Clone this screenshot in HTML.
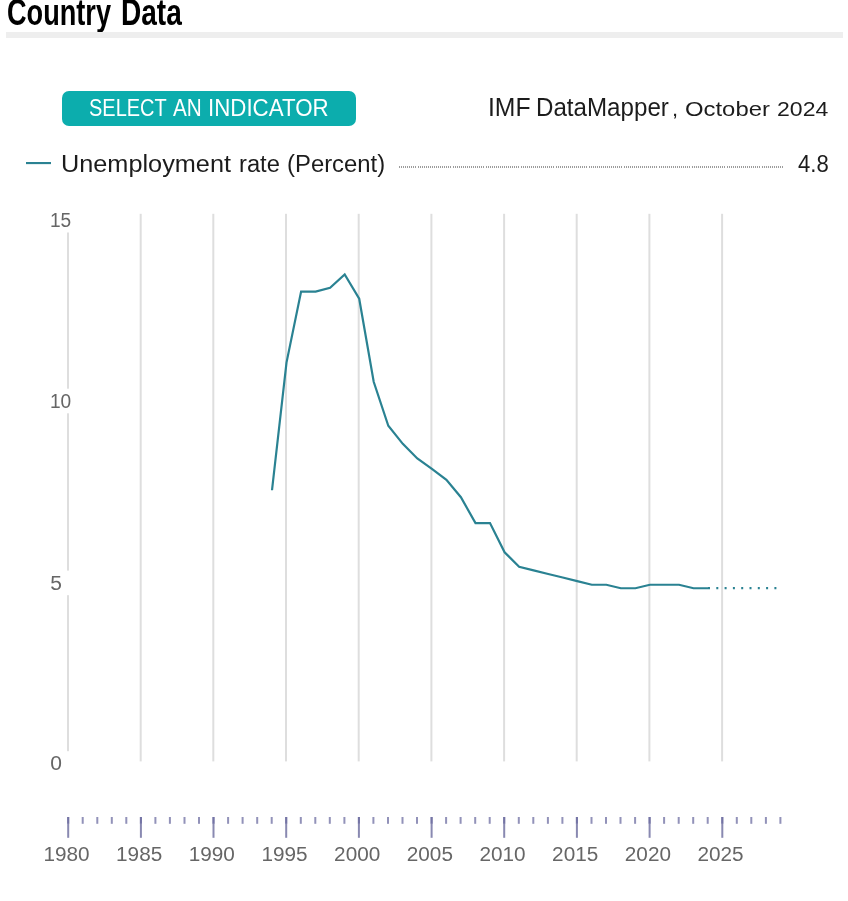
<!DOCTYPE html>
<html lang="en">
<head>
<meta charset="utf-8">
<title>Country Data</title>
<style>
html,body{margin:0;padding:0;background:#fff;}
body{width:848px;height:901px;position:relative;overflow:hidden;font-family:"Liberation Sans",sans-serif;color:#111;}
.w{position:absolute;left:0;margin:0;width:848px;height:1em;line-height:1;font-weight:normal;color:#1c1c1c;}
.w span{position:absolute;top:0;white-space:pre;transform-origin:0 0;}
h2.title{font-weight:bold;color:#000;}
.rule{position:absolute;left:6.4px;top:32px;width:836.8px;height:5.6px;background:#eeeeee;}
.btn{position:absolute;left:61.5px;top:90.5px;width:294.5px;height:35.1px;border-radius:7px;background:#0cadad;}
.btntext{color:#fff;}
.legline{position:absolute;left:26px;top:162px;width:25px;height:2px;background:#2a8292;box-shadow:0 0.5px 0 rgba(42,130,146,0.25);}
.leader{position:absolute;left:399px;top:166px;width:384px;height:2px;background:repeating-linear-gradient(90deg,#9c9c9c 0,#9c9c9c 1px,#fff 1px,#fff 2.06px);}
svg{position:absolute;left:0;top:0;}
svg text{font-family:"Liberation Sans",sans-serif;fill:#666;}
</style>
</head>
<body>
<h2 class="w title" style="top:-6.12px;font-size:37px;"><span style="left:7.00px;transform:scaleX(0.7333);">Country </span><span style="left:120.60px;transform:scaleX(0.7581);">Data</span></h2>
<div class="rule"></div>
<div class="btn" role="button"><div class="w btntext" style="top:6.18px;font-size:23.3px;"><span style="left:27.70px;transform:scaleX(0.8572);">SELECT </span><span style="left:111.30px;transform:scaleX(0.8898);">AN </span><span style="left:146.10px;transform:scaleX(0.9571);">INDICATOR</span></div></div>
<div class="w src" style="top:94.73px;font-size:25.6px;"><span style="left:487.80px;transform:scaleX(0.9665);">IMF </span><span style="left:536.00px;transform:scaleX(0.9434);">DataMapper</span></div>
<div class="w src" style="top:98.71px;font-size:20.9px;"><span style="left:672.20px;transform:scaleX(1.0505);">, </span><span style="left:685.40px;transform:scaleX(1.1420);">October </span><span style="left:776.50px;transform:scaleX(1.1034);">2024</span></div>
<div class="legline"></div>
<div class="w leg" style="top:152.68px;font-size:23.3px;"><span style="left:61.40px;transform:scaleX(1.0849);">Unemployment </span><span style="left:239.00px;transform:scaleX(1.0187);">rate </span><span style="left:287.20px;transform:scaleX(1.0249);">(Percent)</span></div>
<div class="leader"></div>
<div class="w leg" style="top:153.13px;font-size:23.0px;"><span style="left:798.10px;transform:scaleX(0.9602);">4.8</span></div>

<svg width="848" height="901" viewBox="0 0 848 901">
<g fill="#dedede"><rect x="67.0" y="232.5" width="2" height="156.2"/><rect x="67.0" y="413.3" width="2" height="157.3"/><rect x="67.0" y="595.2" width="2" height="156"/><rect x="139.7" y="213.8" width="2" height="547.6"/><rect x="212.3" y="213.8" width="2" height="547.6"/><rect x="285.0" y="213.8" width="2" height="547.6"/><rect x="357.7" y="213.8" width="2" height="547.6"/><rect x="430.4" y="213.8" width="2" height="547.6"/><rect x="503.1" y="213.8" width="2" height="547.6"/><rect x="575.7" y="213.8" width="2" height="547.6"/><rect x="648.4" y="213.8" width="2" height="547.6"/><rect x="721.1" y="213.8" width="2" height="547.6"/></g>
<g class="ylab"><text transform="translate(49.90,227) scale(0.9922,1)" font-size="19.3">15</text><text transform="translate(49.90,408) scale(0.9922,1)" font-size="19.3">10</text><text transform="translate(50.30,590) scale(1.0900,1)" font-size="19.3">5</text><text transform="translate(50.30,770) scale(1.0900,1)" font-size="19.3">0</text></g>
<path d="M272.0,490.25 L286.5,362.55 L301.1,291.65 L315.6,291.65 L330.1,287.85 L344.7,274.45 L359.2,298.75 L373.7,381.75 L388.3,425.75 L402.8,443.85 L417.3,458.45 L431.9,468.85 L446.4,479.85 L460.9,497.25 L475.5,523.05 L490.0,523.05 L504.6,552.25 L519.1,566.75 L533.6,570.35 L548.2,573.95 L562.7,577.55 L577.2,581.15 L591.8,584.75 L606.3,584.75 L620.8,588.25 L635.4,588.25 L649.9,584.75 L664.4,584.75 L679.0,584.75 L693.5,588.25 L708.0,588.25" fill="none" stroke="#2a8292" stroke-width="2.2" stroke-linejoin="miter"/>
<path d="M708.0,588.1 L780.7,588.1" fill="none" stroke="#2a8292" stroke-width="2.2" stroke-dasharray="2 6.3"/>
<g><rect x="67.2" y="817" width="2" height="6.8" fill="#9292b9"/><rect x="67.2" y="817" width="2" height="6.8" fill="#7474a5"/><rect x="67.2" y="823.8" width="2" height="14" fill="#8989b1"/><rect x="81.7" y="817" width="2" height="6.8" fill="#9292b9"/><rect x="96.3" y="817" width="2" height="6.8" fill="#9292b9"/><rect x="110.8" y="817" width="2" height="6.8" fill="#9292b9"/><rect x="125.3" y="817" width="2" height="6.8" fill="#9292b9"/><rect x="139.9" y="817" width="2" height="6.8" fill="#9292b9"/><rect x="139.9" y="817" width="2" height="6.8" fill="#7474a5"/><rect x="139.9" y="823.8" width="2" height="14" fill="#8989b1"/><rect x="154.4" y="817" width="2" height="6.8" fill="#9292b9"/><rect x="168.9" y="817" width="2" height="6.8" fill="#9292b9"/><rect x="183.5" y="817" width="2" height="6.8" fill="#9292b9"/><rect x="198.0" y="817" width="2" height="6.8" fill="#9292b9"/><rect x="212.5" y="817" width="2" height="6.8" fill="#9292b9"/><rect x="212.5" y="817" width="2" height="6.8" fill="#7474a5"/><rect x="212.5" y="823.8" width="2" height="14" fill="#8989b1"/><rect x="227.1" y="817" width="2" height="6.8" fill="#9292b9"/><rect x="241.6" y="817" width="2" height="6.8" fill="#9292b9"/><rect x="256.2" y="817" width="2" height="6.8" fill="#9292b9"/><rect x="270.7" y="817" width="2" height="6.8" fill="#9292b9"/><rect x="285.2" y="817" width="2" height="6.8" fill="#9292b9"/><rect x="285.2" y="817" width="2" height="6.8" fill="#7474a5"/><rect x="285.2" y="823.8" width="2" height="14" fill="#8989b1"/><rect x="299.8" y="817" width="2" height="6.8" fill="#9292b9"/><rect x="314.3" y="817" width="2" height="6.8" fill="#9292b9"/><rect x="328.8" y="817" width="2" height="6.8" fill="#9292b9"/><rect x="343.4" y="817" width="2" height="6.8" fill="#9292b9"/><rect x="357.9" y="817" width="2" height="6.8" fill="#9292b9"/><rect x="357.9" y="817" width="2" height="6.8" fill="#7474a5"/><rect x="357.9" y="823.8" width="2" height="14" fill="#8989b1"/><rect x="372.4" y="817" width="2" height="6.8" fill="#9292b9"/><rect x="387.0" y="817" width="2" height="6.8" fill="#9292b9"/><rect x="401.5" y="817" width="2" height="6.8" fill="#9292b9"/><rect x="416.0" y="817" width="2" height="6.8" fill="#9292b9"/><rect x="430.6" y="817" width="2" height="6.8" fill="#9292b9"/><rect x="430.6" y="817" width="2" height="6.8" fill="#7474a5"/><rect x="430.6" y="823.8" width="2" height="14" fill="#8989b1"/><rect x="445.1" y="817" width="2" height="6.8" fill="#9292b9"/><rect x="459.6" y="817" width="2" height="6.8" fill="#9292b9"/><rect x="474.2" y="817" width="2" height="6.8" fill="#9292b9"/><rect x="488.7" y="817" width="2" height="6.8" fill="#9292b9"/><rect x="503.2" y="817" width="2" height="6.8" fill="#9292b9"/><rect x="503.2" y="817" width="2" height="6.8" fill="#7474a5"/><rect x="503.2" y="823.8" width="2" height="14" fill="#8989b1"/><rect x="517.8" y="817" width="2" height="6.8" fill="#9292b9"/><rect x="532.3" y="817" width="2" height="6.8" fill="#9292b9"/><rect x="546.9" y="817" width="2" height="6.8" fill="#9292b9"/><rect x="561.4" y="817" width="2" height="6.8" fill="#9292b9"/><rect x="575.9" y="817" width="2" height="6.8" fill="#9292b9"/><rect x="575.9" y="817" width="2" height="6.8" fill="#7474a5"/><rect x="575.9" y="823.8" width="2" height="14" fill="#8989b1"/><rect x="590.5" y="817" width="2" height="6.8" fill="#9292b9"/><rect x="605.0" y="817" width="2" height="6.8" fill="#9292b9"/><rect x="619.5" y="817" width="2" height="6.8" fill="#9292b9"/><rect x="634.1" y="817" width="2" height="6.8" fill="#9292b9"/><rect x="648.6" y="817" width="2" height="6.8" fill="#9292b9"/><rect x="648.6" y="817" width="2" height="6.8" fill="#7474a5"/><rect x="648.6" y="823.8" width="2" height="14" fill="#8989b1"/><rect x="663.1" y="817" width="2" height="6.8" fill="#9292b9"/><rect x="677.7" y="817" width="2" height="6.8" fill="#9292b9"/><rect x="692.2" y="817" width="2" height="6.8" fill="#9292b9"/><rect x="706.7" y="817" width="2" height="6.8" fill="#9292b9"/><rect x="721.3" y="817" width="2" height="6.8" fill="#9292b9"/><rect x="721.3" y="817" width="2" height="6.8" fill="#7474a5"/><rect x="721.3" y="823.8" width="2" height="14" fill="#8989b1"/><rect x="735.8" y="817" width="2" height="6.8" fill="#9292b9"/><rect x="750.3" y="817" width="2" height="6.8" fill="#9292b9"/><rect x="764.9" y="817" width="2" height="6.8" fill="#9292b9"/><rect x="779.4" y="817" width="2" height="6.8" fill="#9292b9"/></g>
<g class="xlab"><text transform="translate(43.40,861) scale(1.0761,1)" font-size="19.3">1980</text><text transform="translate(116.08,861) scale(1.0761,1)" font-size="19.3">1985</text><text transform="translate(188.75,861) scale(1.0761,1)" font-size="19.3">1990</text><text transform="translate(261.42,861) scale(1.0761,1)" font-size="19.3">1995</text><text transform="translate(334.10,861) scale(1.0761,1)" font-size="19.3">2000</text><text transform="translate(406.77,861) scale(1.0761,1)" font-size="19.3">2005</text><text transform="translate(479.45,861) scale(1.0761,1)" font-size="19.3">2010</text><text transform="translate(552.12,861) scale(1.0761,1)" font-size="19.3">2015</text><text transform="translate(624.80,861) scale(1.0761,1)" font-size="19.3">2020</text><text transform="translate(697.48,861) scale(1.0761,1)" font-size="19.3">2025</text></g>
</svg>
</body>
</html>
